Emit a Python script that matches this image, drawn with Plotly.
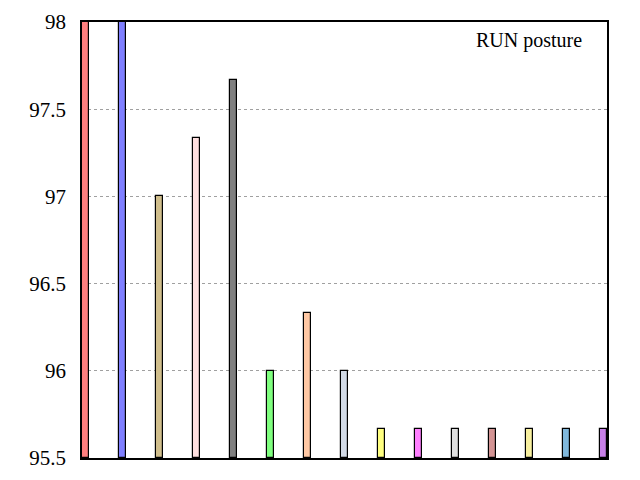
import plotly.graph_objects as go

# values
positions = list(range(15))
scores = [98.0, 98.0, 97.0, 97.333, 97.667, 96.0, 96.333, 96.0,
          95.667, 95.667, 95.667, 95.667, 95.667, 95.667, 95.667]
bar_colors = ['#ff7f7f', '#7f7fff', '#d0be8c', '#ffe0e0', '#808080', '#7fff7f',
              '#ffc8a4', '#d2dae6', '#ffff80', '#ff80ff', '#e0e0e0', '#d49494',
              '#f8f0a0', '#80b8dc', '#c880e8']
y_ticks = [95.5, 96, 96.5, 97, 97.5, 98]
tick_labels = ['95.5', '96', '96.5', '97', '97.5', '98']

bar_w = 0.19
serif = 'Liberation Serif'

fig = go.Figure()
fig.add_trace(go.Bar(
    x=positions,
    y=[v - 95.5 for v in scores],
    base=95.5,
    width=bar_w,
    marker=dict(color=bar_colors, line=dict(color='black', width=1.2)),
    showlegend=False,
))

fig.add_annotation(
    text='RUN posture', xref='paper', yref='paper',
    x=0.957, y=0.958, xanchor='right', yanchor='middle',
    showarrow=False, font=dict(family=serif, size=20, color='black'),
)

# the page puts the figure 8px in from the top left corner
fig.update_layout(
    width=640, height=480,
    margin=dict(l=74, r=41, t=14, b=30),
    plot_bgcolor='white', paper_bgcolor='white',
    font=dict(family=serif, size=20, color='black'),
    bargap=0,
    xaxis=dict(
        range=[-bar_w / 2, 14 + bar_w / 2], automargin=False,
        showticklabels=False, ticks='', showgrid=False, zeroline=False,
        showline=True, linecolor='black', linewidth=1.5, mirror=True,
    ),
    yaxis=dict(
        range=[95.5, 98], tickvals=y_ticks, ticktext=tick_labels, automargin=False,
        tickfont=dict(family=serif, size=21, color='black'),
        showgrid=True, gridcolor='#a0a0a0', griddash='dot', gridwidth=1,
        zeroline=False, ticks='outside', ticklen=0, tickcolor='black',
        showline=True, linecolor='black', linewidth=1.5, mirror=True,
        ticklabelstandoff=10,
    ),
    # mirrored inward ticks on the right border
    yaxis2=dict(
        range=[95.5, 98], tickvals=y_ticks, overlaying='y', side='right',
        automargin=False, showticklabels=False, showgrid=False, zeroline=False,
        ticks='inside', ticklen=6, tickcolor='black', tickwidth=1.2,
    ),
)

fig.write_html("out.html")
